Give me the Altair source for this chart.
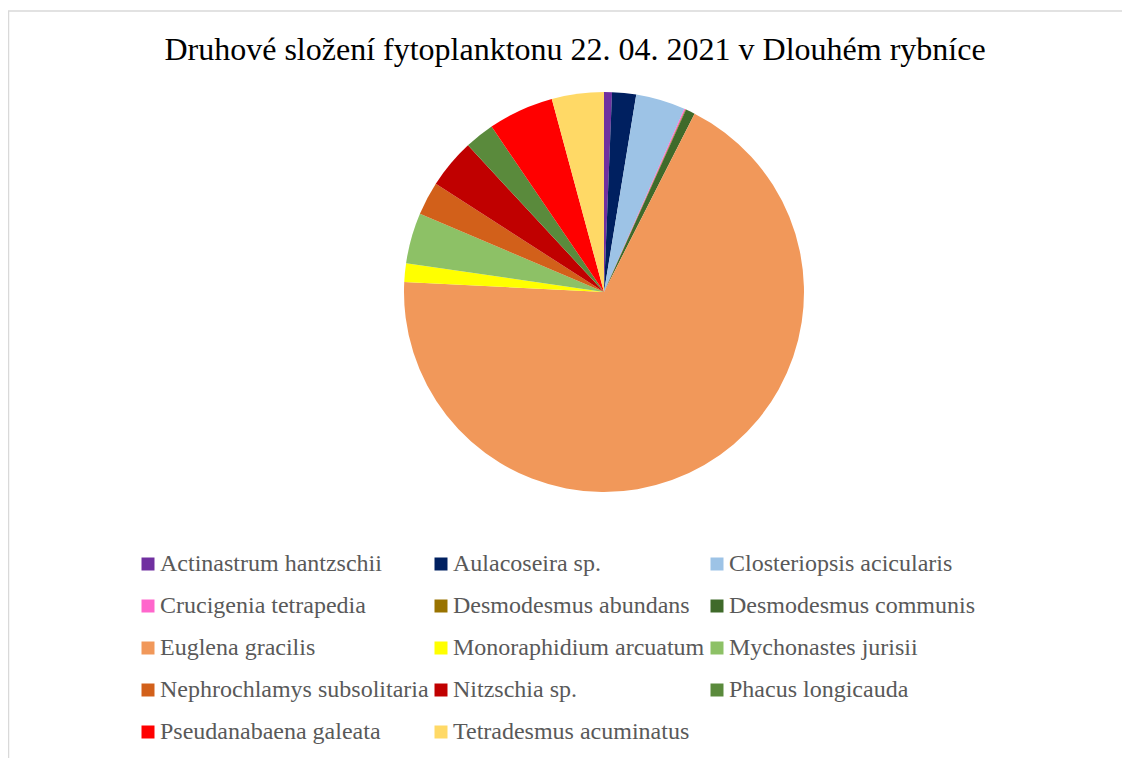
import altair as alt
import pandas as pd

title_text = "Druhové složení fytoplanktonu 22. 04. 2021 v Dlouhém rybníce"

species = [
    "Actinastrum hantzschii", "Aulacoseira sp.", "Closteriopsis acicularis",
    "Crucigenia tetrapedia", "Desmodesmus abundans", "Desmodesmus communis",
    "Euglena gracilis", "Monoraphidium arcuatum", "Mychonastes jurisii",
    "Nephrochlamys subsolitaria", "Nitzschia sp.", "Phacus longicauda",
    "Pseudanabaena galeata", "Tetradesmus acuminatus",
]
share = [0.64, 1.94, 4.0, 0.1, 0.05, 0.75, 68.3, 1.5, 4.1, 2.7, 4.0, 2.4, 5.3, 4.2]
colors = [
    "#7030A0", "#002060", "#9DC3E6", "#FF66CC", "#997300", "#3F6A2A",
    "#F1985A", "#FFFF00", "#8DC166", "#D2601A", "#C00000", "#5A8A3C",
    "#FF0000", "#FFD966",
]

df = pd.DataFrame({"species": species, "share": share, "idx": list(range(len(species)))})

pie = (
    alt.Chart(df)
    .mark_arc(outerRadius=200)
    .encode(
        theta=alt.Theta("share:Q", stack=True),
        order=alt.Order("idx:Q"),
        x=alt.value(596),
        y=alt.value(214),
        color=alt.Color(
            "species:N",
            scale=alt.Scale(domain=species, range=colors),
            legend=alt.Legend(
                title=None,
                orient="none",
                legendX=128,
                legendY=474,
                columns=3,
                direction="horizontal",
                symbolType="square",
                symbolSize=169,
                symbolStrokeWidth=0,
                labelFont="Liberation Serif",
                labelFontSize=24,
                labelColor="#595959",
                labelLimit=400,
                labelOffset=0,
                rowPadding=18,
                columnPadding=-3,
            ),
        ),
        tooltip=["species", "share"],
    )
)

meta = pd.DataFrame({"title": [title_text]})

# faint chart-area frame (decoration)
frame = (
    alt.Chart(meta)
    .mark_rect(fillOpacity=0, stroke="#D9D9D9", strokeWidth=1.5)
    .encode(
        x=alt.value(0.5),
        x2=alt.value(1400),
        y=alt.value(-67),
        y2=alt.value(1000),
    )
)

title = (
    alt.Chart(meta)
    .mark_text(
        font="Liberation Serif",
        fontSize=32,
        color="#000000",
        align="center",
        baseline="alphabetic",
    )
    .encode(
        text="title:N",
        x=alt.value(567),
        y=alt.value(-18),
    )
)

chart = (
    alt.layer(frame, pie, title)
    .properties(
        width=1114,
        height=680,
        autosize=alt.AutoSizeParams(type="none"),
        padding={"left": 0, "top": 70, "right": 0, "bottom": 0},
    )
    .configure_view(stroke=None)
)

chart.save("out.html", embed_options={"renderer": "svg", "actions": False})
